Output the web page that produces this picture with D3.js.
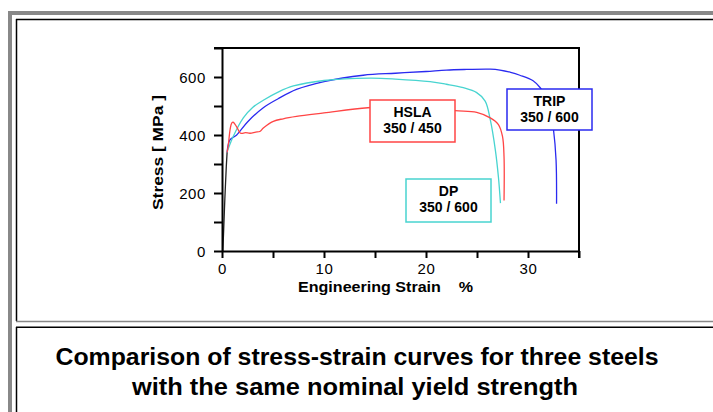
<!doctype html>
<html>

<head>
	<style>
		body { margin: 0; background: #fff; }
		text { font-family: "Liberation Sans", Arial, sans-serif; fill: #000; }
	</style>
</head>

<body>
	<div class="figure"></div>

	<script src="https://d3js.org/d3.v7.min.js"></script>
	<script>
		// strain %, stress MPa
		const elastic = [[0.08, 0], [0.15, 60], [0.28, 180], [0.42, 290], [0.5, 340]];
		const trip = [[0.5, 340], [0.78, 383], [1.44, 400], [2.5, 445], [4.05, 494], [5.5, 525], [7.3, 557],
			[10, 584], [13.85, 606], [17, 613], [20, 619], [22, 624], [24, 626], [26.3, 627], [27.25, 624],
			[28.3, 616], [29.2, 606], [30.5, 587], [31.2, 563], [31.8, 530], [32.2, 480], [32.5, 418],
			[32.75, 314], [32.8, 163]];
		const dp = [[0.5, 342], [1.1, 395], [2.09, 459], [3, 495], [4.05, 520], [5.5, 548], [7, 569],
			[10, 588], [14.5, 596], [17, 593], [20.4, 584], [22, 575], [23.66, 563], [24.97, 546],
			[25.8, 517], [26.3, 453], [26.8, 348], [27.1, 255], [27.3, 165]];
		const hsla = [[0.5, 340], [0.62, 366], [0.8, 420], [0.95, 441], [1.1, 444], [1.44, 428], [1.83, 406],
			[2.3, 408], [2.75, 406], [3.3, 410], [3.7, 412], [4.05, 424], [5.03, 447], [6, 456], [7.3, 464],
			[10, 476], [14.3, 494], [18, 498], [22.84, 484], [24.97, 478], [26.3, 459], [27.1, 436],
			[27.5, 395], [27.65, 325], [27.65, 174]];

		const xTicks = [0, 5, 10, 15, 20, 25, 30, 35];
		const xLabels = [0, 10, 20, 30];
		const yTicks = [0, 100, 200, 300, 400, 500, 600, 700];
		const yLabels = [0, 200, 400, 600];

		const steels = ["TRIP", "DP", "HSLA"];
		const grades = ["350 / 600", "350 / 600", "350 / 450"];

		let svg = d3.select(".figure")
			.append("svg")
			.attr("width", 713)
			.attr("height", 412)
			.style("background-color", "white")
			.style("display", "block");

		// table frame
		svg.append("rect").attr("x", 8).attr("y", 11).attr("width", 720).attr("height", 420).attr("fill", "#888");
		svg.append("rect").attr("x", 12).attr("y", 15).attr("width", 720).attr("height", 420).attr("fill", "white");
		svg.append("line").attr("x1", 16.5).attr("x2", 16.5).attr("y1", 19).attr("y2", 321).attr("stroke", "#000").attr("stroke-width", 1.5);
		svg.append("line").attr("x1", 16).attr("x2", 713).attr("y1", 19.5).attr("y2", 19.5).attr("stroke", "#000").attr("stroke-width", 1.5);
		svg.append("line").attr("x1", 16).attr("x2", 713).attr("y1", 321.5).attr("y2", 321.5).attr("stroke", "#888").attr("stroke-width", 1.5);
		svg.append("line").attr("x1", 16).attr("x2", 713).attr("y1", 327.3).attr("y2", 327.3).attr("stroke", "#000").attr("stroke-width", 1.5);
		svg.append("line").attr("x1", 16.5).attr("x2", 16.5).attr("y1", 327).attr("y2", 412).attr("stroke", "#000").attr("stroke-width", 1.5);

		let x = d3.scaleLinear().domain([0, 35]).range([222, 579]);
		let y = d3.scaleLinear().domain([0, 700]).range([251, 48]);

		// curves
		let line = d3.line().x(d => x(d[0])).y(d => y(d[1])).curve(d3.curveCatmullRom.alpha(0.5));
		let curves = [
			{ data: trip, color: "#2a2af0" },
			{ data: dp, color: "#48d4d0" },
			{ data: hsla, color: "#ff4545" },
			{ data: elastic, color: "#222" }
		];
		svg.selectAll("path.curve").data(curves).enter().append("path")
			.attr("class", "curve")
			.attr("d", d => line(d.data))
			.attr("fill", "none")
			.attr("stroke", d => d.color)
			.attr("stroke-width", 1.3);

		// axes
		let gx = svg.append("g").attr("transform", "translate(0," + y(0) + ")")
			.call(d3.axisBottom(x).tickValues(xTicks).tickSize(7).tickSizeOuter(0)
				.tickFormat(d => xLabels.includes(d) ? d : ""));
		let gy = svg.append("g").attr("transform", "translate(" + x(0) + ",0)")
			.call(d3.axisLeft(y).tickValues(yTicks).tickSize(8).tickSizeOuter(0)
				.tickFormat(d => yLabels.includes(d) ? d : ""));
		[gx, gy].forEach(g => {
			g.select(".domain").attr("stroke-width", 2);
			g.selectAll(".tick line").attr("stroke-width", 2);
			g.selectAll(".tick text").style("font-family", "'Liberation Sans', Arial, sans-serif")
				.style("font-size", "15px").style("letter-spacing", "0.6px").attr("fill", "#000");
		});
		gx.selectAll(".tick text").attr("dy", "0.85em");
		gy.selectAll(".tick text").attr("x", -16).attr("dy", "0.36em");

		// top and right of the box
		svg.append("line").attr("x1", x(0) - 8).attr("x2", x(35)).attr("y1", y(700)).attr("y2", y(700))
			.attr("stroke", "#000").attr("stroke-width", 2);
		svg.append("line").attr("x1", x(35)).attr("x2", x(35)).attr("y1", y(700) - 1).attr("y2", y(0) + 7)
			.attr("stroke", "#000").attr("stroke-width", 2);

		// axis titles
		svg.append("text").attr("transform", "translate(163,152.5) rotate(-90)")
			.attr("text-anchor", "middle").style("font-size", "14px").style("font-weight", "bold")
			.attr("textLength", 115).attr("lengthAdjust", "spacingAndGlyphs")
			.text("Stress  [ MPa ]");
		svg.append("text").attr("x", 298).attr("y", 292)
			.style("font-size", "14px").style("font-weight", "bold")
			.attr("textLength", 175).attr("lengthAdjust", "spacingAndGlyphs")
			.attr("xml:space", "preserve")
			.text("Engineering Strain    %");

		// labels
		let boxes = [
			{ x0: 507, y0: 89, w: 85, h: 41, color: "#2a2af0" },
			{ x0: 406, y0: 179, w: 85, h: 43, color: "#48d4d0" },
			{ x0: 370, y0: 100, w: 85, h: 42, color: "#ff4545" }
		];
		steels.forEach((s, i) => {
			let b = boxes[i];
			let g = svg.append("g");
			g.append("rect").attr("x", b.x0).attr("y", b.y0).attr("width", b.w).attr("height", b.h)
				.attr("fill", "white").attr("stroke", b.color).attr("stroke-width", 1.5);
			g.append("text").attr("x", b.x0 + b.w / 2).attr("y", b.y0 + 17).attr("text-anchor", "middle")
				.style("font-size", "14px").style("font-weight", "bold").text(s);
			g.append("text").attr("x", b.x0 + b.w / 2).attr("y", b.y0 + 33).attr("text-anchor", "middle")
				.style("font-size", "14px").style("font-weight", "bold").text(grades[i]);
		});

		// caption
		svg.append("text").attr("x", 357).attr("y", 365).attr("text-anchor", "middle")
			.style("font-size", "23px").style("font-weight", "bold")
			.attr("textLength", 603).attr("lengthAdjust", "spacingAndGlyphs")
			.text("Comparison of stress-strain curves for three steels");
		svg.append("text").attr("x", 355).attr("y", 395).attr("text-anchor", "middle")
			.style("font-size", "23px").style("font-weight", "bold")
			.attr("textLength", 446).attr("lengthAdjust", "spacingAndGlyphs")
			.text("with the same nominal yield strength");
	</script>

</body>

</html>
